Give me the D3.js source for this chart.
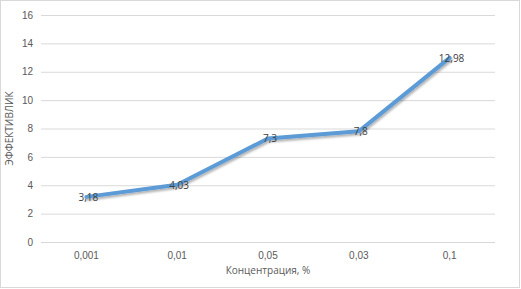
<!DOCTYPE html>
<html>
<head>
<meta charset="utf-8">
<script src="https://cdn.jsdelivr.net/npm/d3@7"></script>
<style>
  body { margin: 0; background: #fff; }
  svg { display: block; font-family: "Open Sans", "Liberation Sans", sans-serif; }
</style>
</head>
<body>
<svg id="chart"></svg>
<script>
// concentration categories (in the order shown) and the effect values
const categories = ["0,001", "0,01", "0,05", "0,03", "0,1"];
const values = [3.18, 4.03, 7.3, 7.8, 12.98];
const valueLabels = ["3,18", "4,03", "7,3", "7,8", "12,98"];
const yTicks = [0, 2, 4, 6, 8, 10, 12, 14, 16];

const width = 521, height = 289;
const margin = { top: 15, right: 26, bottom: 47, left: 41 };

const svg = d3.select("#chart")
    .attr("width", width)
    .attr("height", height);

// outer chart border
svg.append("rect")
    .attr("x", 0.5).attr("y", 0.5)
    .attr("width", width - 2).attr("height", height - 2)
    .attr("fill", "#fff")
    .attr("stroke", "#d9d9d9");

const x = d3.scaleBand()
    .domain(categories)
    .range([margin.left, width - margin.right]);

const y = d3.scaleLinear()
    .domain([0, 16])
    .range([height - margin.bottom, margin.top]);

const defs = svg.append("defs");
const shadow = defs.append("filter").attr("id", "shadow")
    .attr("x", "-10%").attr("y", "-10%").attr("width", "120%").attr("height", "140%");
shadow.append("feDropShadow")
    .attr("dx", 1).attr("dy", 2).attr("stdDeviation", 1.2)
    .attr("flood-color", "#000").attr("flood-opacity", 0.3);

// gridlines
svg.append("g")
    .selectAll("line")
    .data(yTicks)
    .join("line")
    .attr("x1", margin.left).attr("x2", width - margin.right)
    .attr("y1", d => y(d) + 0.5).attr("y2", d => y(d) + 0.5)
    .attr("stroke", "#d9d9d9")
    .attr("stroke-width", 1);

// y axis labels
const yAxis = svg.append("g")
    .attr("transform", `translate(${margin.left},0)`)
    .call(d3.axisLeft(y).tickValues(yTicks).tickSize(0).tickPadding(8));
yAxis.select(".domain").remove();
yAxis.selectAll("text")
    .attr("font-size", 10)
    .attr("fill", "#595959")
    .attr("font-family", null);

// x axis labels
const xAxis = svg.append("g")
    .attr("transform", `translate(0,${y(0)})`)
    .call(d3.axisBottom(x).tickSize(0).tickPadding(10));
xAxis.select(".domain").remove();
xAxis.selectAll("text")
    .attr("font-size", 10)
    .attr("fill", "#595959")
    .attr("font-family", null);

// line
const line = d3.line()
    .x((d, i) => x(categories[i]) + x.bandwidth() / 2)
    .y(d => y(d));

svg.append("path")
    .datum(values)
    .attr("fill", "none")
    .attr("stroke", "#5b9bd5")
    .attr("stroke-width", 4)
    .attr("stroke-linejoin", "round")
    .attr("stroke-linecap", "round")
    .attr("filter", "url(#shadow)")
    .attr("d", line);

// data labels
svg.append("g")
    .selectAll("text")
    .data(values)
    .join("text")
    .attr("x", (d, i) => x(categories[i]) + x.bandwidth() / 2 + 2)
    .attr("y", d => y(d) + 4)
    .attr("text-anchor", "middle")
    .attr("font-size", 10)
    .attr("fill", "#404040")
    .text((d, i) => valueLabels[i]);

// axis titles
svg.append("text")
    .attr("x", (margin.left + width - margin.right) / 2)
    .attr("y", 274)
    .attr("text-anchor", "middle")
    .attr("font-size", 10)
    .attr("fill", "#595959")
    .text("Концентрация, %");

svg.append("text")
    .attr("transform", `translate(13,${(margin.top + y(0)) / 2}) rotate(-90)`)
    .attr("text-anchor", "middle")
    .attr("font-size", 10)
    .attr("fill", "#595959")
    .text("ЭФФЕКТИВЛИК");
</script>
</body>
</html>
